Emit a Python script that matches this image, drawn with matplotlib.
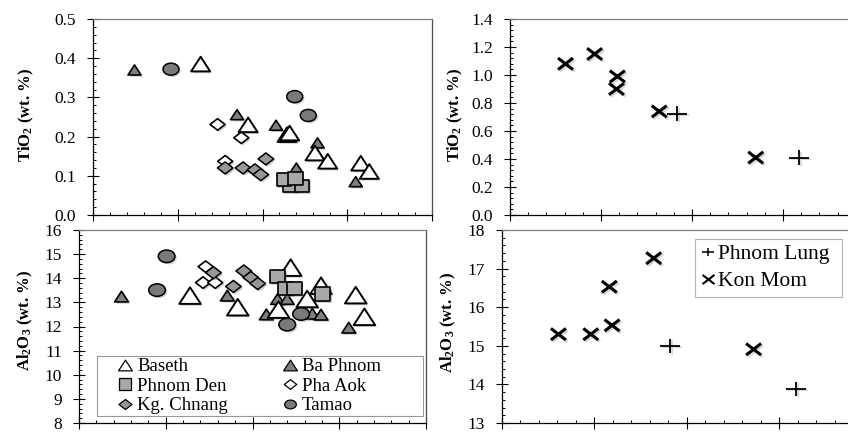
import matplotlib
matplotlib.use('Agg')
import matplotlib.pyplot as plt
from matplotlib.path import Path
from matplotlib.transforms import Affine2D
from matplotlib.lines import Line2D
from matplotlib.patches import Rectangle
from matplotlib.ticker import MultipleLocator, FormatStrFormatter
import matplotlib.patheffects as pe

plt.rcParams['font.family'] = ['Liberation Serif', 'DejaVu Serif']
plt.rcParams['mathtext.default'] = 'regular'

# ---------------- data (x = SiO2 wt.%) ----------------
# left column, TiO2 panel
baseth_x_ti = [66.35, 69.15, 71.45, 71.6, 73.1, 73.85, 75.8, 76.3]
baseth_ti = [0.385, 0.230, 0.205, 0.209, 0.158, 0.137, 0.132, 0.111]
baphnom_x_ti = [62.45, 68.5, 70.8, 72.0, 73.25, 75.5]
baphnom_ti = [0.370, 0.256, 0.229, 0.120, 0.184, 0.085]
phnomden_x_ti = [71.6, 72.35, 71.25, 71.95]
phnomden_ti = [0.074, 0.074, 0.090, 0.092]
phaaok_x_ti = [67.35, 68.75, 67.8]
phaaok_ti = [0.231, 0.197, 0.137]
kgchnang_x_ti = [67.8, 68.85, 69.55, 69.9, 70.2]
kgchnang_ti = [0.120, 0.120, 0.115, 0.103, 0.143]
tamao_x_ti = [64.6, 71.9, 72.7]
tamao_ti = [0.372, 0.302, 0.254]

# left column, Al2O3 panel
baseth_x_al = [66.4, 69.15, 72.2, 71.5, 73.15, 73.95, 75.95, 76.45]
baseth_al = [13.28, 12.8, 14.44, 12.7, 13.14, 13.69, 13.3, 12.4]
baphnom_x_al = [62.45, 68.55, 70.8, 71.45, 72.0, 73.45, 73.95, 75.55]
baphnom_al = [13.24, 13.28, 12.5, 13.14, 13.14, 12.53, 12.49, 11.95]
phnomden_x_al = [71.45, 71.9, 72.4, 74.05]
phnomden_al = [14.07, 13.58, 13.58, 13.35]
phaaok_x_al = [67.3, 67.15, 67.85]
phaaok_al = [14.48, 13.82, 13.82]
kgchnang_x_al = [67.75, 68.9, 69.5, 69.9, 70.3]
kgchnang_al = [14.23, 13.66, 14.3, 14.03, 13.78]
tamao_x_al = [65.05, 64.5, 72.0, 72.8]
tamao_al = [14.91, 13.51, 12.08, 12.52]

# right column
konmom_x_ti = [53.05, 54.65, 55.9, 55.85, 58.2, 63.5]
konmom_ti = [1.08, 1.15, 0.99, 0.90, 0.74, 0.41]
phnomlung_x_ti = [59.2, 65.9]
phnomlung_ti = [0.725, 0.41]
konmom_x_al = [53.05, 54.8, 55.8, 55.95, 58.2, 63.6]
konmom_al = [15.3, 15.3, 16.53, 15.53, 17.27, 14.91]
phnomlung_x_al = [59.1, 65.9]
phnomlung_al = [15.0, 13.89]

left_labels = ['Baseth', 'Ba Phnom', 'Phnom Den', 'Pha Aok', 'Kg. Chnang', 'Tamao']
right_labels = ['Phnom Lung', 'Kon Mom']

# ---------------- marker shapes (slightly widened) ----------------
tri = Path([(-1.3, -1), (1.3, -1), (0, 1), (0, 0)],
           [Path.MOVETO, Path.LINETO, Path.LINETO, Path.CLOSEPOLY])
diamond = Path([(0, 1), (1.3, 0), (0, -1), (-1.3, 0), (0, 0)],
               [Path.MOVETO, Path.LINETO, Path.LINETO, Path.LINETO, Path.CLOSEPOLY])
square = Path([(-1.1, -1), (1.1, -1), (1.1, 1), (-1.1, 1), (0, 0)],
              [Path.MOVETO, Path.LINETO, Path.LINETO, Path.LINETO, Path.CLOSEPOLY])
ellipse = Path.unit_circle().transformed(Affine2D().scale(1.33, 1.0))
cross = Path([(-1.3, -1), (1.3, 1), (-1.3, 1), (1.3, -1)],
             [Path.MOVETO, Path.LINETO, Path.MOVETO, Path.LINETO])
plus = Path([(-1.4, 0), (1.4, 0), (0, -1), (0, 1)],
            [Path.MOVETO, Path.LINETO, Path.MOVETO, Path.LINETO])

shadow = [pe.SimplePatchShadow(offset=(1.3, -1.3), shadow_rgbFace='0.45', alpha=0.35), pe.Normal()]
lshadow = [pe.SimpleLineShadow(offset=(1.2, -1.2), shadow_color='0.55', alpha=0.35), pe.Normal()]

styles = {
    'Baseth': dict(marker=tri, mfc='white', mec='black', mew=1.4),
    'Ba Phnom': dict(marker=tri, mfc='#7f7f7f', mec='black', mew=1.2),
    'Phnom Den': dict(marker=square, mfc='#a8a8a8', mec='black', mew=1.2),
    'Pha Aok': dict(marker=diamond, mfc='white', mec='black', mew=1.2),
    'Kg. Chnang': dict(marker=diamond, mfc='#979797', mec='black', mew=1.1),
    'Tamao': dict(marker=ellipse, mfc='#7a7a7a', mec='black', mew=1.1),
    'Phnom Lung': dict(marker=plus, mfc='none', mec='black', mew=1.3),
    'Kon Mom': dict(marker=cross, mfc='none', mec='black', mew=2.2),
}

W, H = 848, 432
fig = plt.figure(figsize=(W / 100, H / 100), dpi=100)


def px_axes(left, right, top, bottom):
    return fig.add_axes([left / W, (H - bottom) / H, (right - left) / W, (bottom - top) / H])


ax1 = px_axes(93, 432, 19, 215)
ax2 = px_axes(79, 426, 230, 423)
ax3 = px_axes(510, 874, 19, 215)
ax4 = px_axes(502, 872, 230, 423)


def pts(ax, x, y, name, ms, eff=shadow):
    ax.plot(x, y, linestyle='none', markersize=ms, path_effects=eff, **styles[name])


# top-left
pts(ax1, baphnom_x_ti, baphnom_ti, 'Ba Phnom', 9.4)
pts(ax1, baseth_x_ti, baseth_ti, 'Baseth', 13.7)
pts(ax1, phaaok_x_ti, phaaok_ti, 'Pha Aok', 10.8)
pts(ax1, kgchnang_x_ti, kgchnang_ti, 'Kg. Chnang', 11.3)
pts(ax1, phnomden_x_ti, phnomden_ti, 'Phnom Den', 10.2)
pts(ax1, tamao_x_ti, tamao_ti, 'Tamao', 11.5)

# bottom-left
pts(ax2, baphnom_x_al, baphnom_al, 'Ba Phnom', 10.0)
pts(ax2, baseth_x_al, baseth_al, 'Baseth', 15.5)
pts(ax2, phaaok_x_al, phaaok_al, 'Pha Aok', 10.8)
pts(ax2, kgchnang_x_al, kgchnang_al, 'Kg. Chnang', 11.3)
pts(ax2, phnomden_x_al, phnomden_al, 'Phnom Den', 10.8)
pts(ax2, tamao_x_al, tamao_al, 'Tamao', 12.0)

# right
pts(ax3, konmom_x_ti, konmom_ti, 'Kon Mom', 10.8, lshadow)
pts(ax3, phnomlung_x_ti, phnomlung_ti, 'Phnom Lung', 14.4, lshadow)
pts(ax4, konmom_x_al, konmom_al, 'Kon Mom', 10.8, lshadow)
pts(ax4, phnomlung_x_al, phnomlung_al, 'Phnom Lung', 14.4, lshadow)

setup = [
    (ax1, (60, 80), (0, 0.5), 0.1, 0.02, '%.1f', 'TiO$_2$ (wt. %)', (-0.1976, 0.508)),
    (ax2, (60, 80), (8, 16), 1, 0.2, '%d', 'Al$_2$O$_3$ (wt. %)', (-0.1556, 0.531)),
    (ax3, (50, 70), (0, 1.4), 0.2, 0.04, '%.1f', 'TiO$_2$ (wt. %)', (-0.151, 0.508)),
    (ax4, (50, 70), (13, 18), 1, 0.2, '%d', 'Al$_2$O$_3$ (wt. %)', (-0.146, 0.52)),
]
for ax, xl, yl, ymaj, ymin, fmt, lab, lc in setup:
    ax.set_xlim(*xl)
    ax.set_ylim(*yl)
    ax.xaxis.set_major_locator(MultipleLocator(5))
    ax.xaxis.set_minor_locator(MultipleLocator(1))
    ax.yaxis.set_major_locator(MultipleLocator(ymaj))
    ax.yaxis.set_minor_locator(MultipleLocator(ymin))
    ax.yaxis.set_major_formatter(FormatStrFormatter(fmt))
    ax.tick_params(which='major', direction='inout', length=8.5, width=0.8, pad=8.0,
                   labelsize=12.5, colors='black')
    ax.tick_params(which='minor', direction='in', length=2.4, width=0.7)
    ax.tick_params(which='both', top=False, right=False, labelbottom=False)
    for s in ('left', 'bottom'):
        ax.spines[s].set_color('black')
        ax.spines[s].set_linewidth(0.9)
    ax.spines['top'].set_color('0.5')
    ax.spines['top'].set_linewidth(0.9)
    ax.spines['right'].set_color('0.3')
    ax.spines['right'].set_linewidth(0.9)
    ax.set_ylabel(lab, fontsize=12, fontweight='bold', va='center', ha='center')
    ax.yaxis.set_label_coords(*lc)

# left legend (framed box drawn as a rectangle)
ax2.add_patch(Rectangle((0.0519, 0.036), 0.939, 0.313, transform=ax2.transAxes,
                        facecolor='white', edgecolor='0.6', linewidth=0.8, zorder=4))
leg_sizes = {'Baseth': 10.0, 'Ba Phnom': 10.0, 'Phnom Den': 9.0, 'Pha Aok': 9.0,
             'Kg. Chnang': 9.4, 'Tamao': 8.4}
order = ['Baseth', 'Phnom Den', 'Kg. Chnang', 'Ba Phnom', 'Pha Aok', 'Tamao']
handles = []
for name in order:
    st = dict(styles[name])
    st['mew'] = 0.9
    handles.append(Line2D([], [], linestyle='none', markersize=leg_sizes[name], **st))
leg = ax2.legend(handles, order, ncol=2, loc='upper left', bbox_to_anchor=(0.111, 0.335),
                 borderpad=0, borderaxespad=0, handlelength=0.8, handletextpad=0.25,
                 columnspacing=2.9, labelspacing=0.12, frameon=False, fontsize=13.5)
leg.set_zorder(5)

# right legend
rh = [Line2D([], [], linestyle='none', marker=plus, markersize=8.0, mec='black', mew=1.1),
      Line2D([], [], linestyle='none', marker=cross, markersize=8.6, mec='black', mew=1.5)]
leg2 = ax4.legend(rh, right_labels, loc='upper left', bbox_to_anchor=(0.5216, 0.954, 0.397, 0),
                  mode='expand', borderaxespad=0, borderpad=0.25, handlelength=0.75,
                  handletextpad=0.05, labelspacing=0.32, fontsize=15.5, frameon=True,
                  fancybox=False, edgecolor='0.7', framealpha=1)
leg2.get_frame().set_linewidth(0.8)

fig.savefig('out.png', dpi=100)
